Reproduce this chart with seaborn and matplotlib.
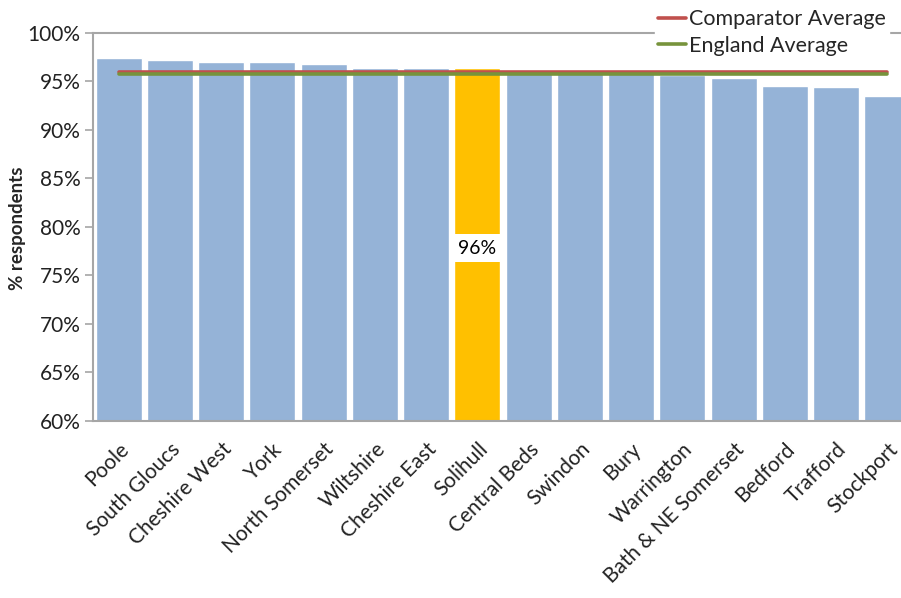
import matplotlib
matplotlib.use('Agg')
import matplotlib.pyplot as plt
import numpy as np
import pandas as pd
import seaborn as sns

# values
areas = ['Poole', 'South Gloucs', 'Cheshire West', 'York', 'North Somerset', 'Wiltshire',
         'Cheshire East', 'Solihull', 'Central Beds', 'Swindon', 'Bury', 'Warrington',
         'Bath & NE Somerset', 'Bedford', 'Trafford', 'Stockport']
pct = [97.4, 97.2, 97.0, 97.0, 96.8, 96.4, 96.4, 96.4, 96.0, 96.0, 96.0, 95.7,
       95.4, 94.5, 94.4, 93.5]
comparator_avg = 96.0
england_avg = 95.75
highlight = 'Solihull'
yticks = [60, 65, 70, 75, 80, 85, 90, 95, 100]

blue = '#95B3D7'
gold = '#FFC000'
red = '#C0504D'
green = '#77933C'
grey = '#A6A6A6'

sns.set_style('white')
plt.rcParams['font.family'] = ['Lato', 'DejaVu Sans']

df = pd.DataFrame({'area': areas, 'pct': pct})
palette = {a: (gold if a == highlight else blue) for a in areas}

fig = plt.figure(figsize=(9.01, 5.98), dpi=100)
ax = fig.add_axes([93 / 901, 1 - 421 / 598, 820 / 901, 388 / 598])

sns.barplot(data=df, x='area', y='pct', hue='area', palette=palette, legend=False,
            width=0.9, saturation=1, ax=ax, zorder=2)

# average lines running across the categories
xs = np.arange(len(areas))
ax.plot(xs, [comparator_avg] * len(areas), color=red, lw=2.6, label='Comparator Average', zorder=3)
ax.plot(xs, [england_avg] * len(areas), color=green, lw=2.6, label='England Average', zorder=3)

# data label for the highlighted bar
i = areas.index(highlight)
ax.text(i, (60 + pct[i]) / 2 - 0.4, f'{round(pct[i])}%', ha='center', va='center', fontsize=14,
        color='black', bbox=dict(facecolor='white', edgecolor='none', pad=4), zorder=4)

ax.set_ylim(60, 100)
ax.set_xlim(-0.5, len(areas) - 0.5)
ax.set_yticks(yticks)
ax.set_yticklabels([f'{t}%' for t in yticks], fontsize=15, color='#222222')
ax.set_xticks(xs)
ax.set_xticklabels(areas, rotation=45, ha='right', rotation_mode='anchor', fontsize=15,
                   color='#222222')
ax.tick_params(axis='x', length=0, pad=13)
ax.set_xticks(np.arange(len(areas) + 1) - 0.5, minor=True)
ax.tick_params(axis='x', which='minor', length=6, color=grey, width=1.2)
ax.tick_params(axis='y', length=6, color=grey, width=1.2, left=True, pad=3)
ax.set_xlabel('')
ax.set_ylabel('')
for s in ['left', 'bottom', 'top', 'right']:
    ax.spines[s].set_color(grey)
    ax.spines[s].set_linewidth(1.5)

fig.text(18 / 901, 1 - 228 / 598, '% respondents', rotation=90, ha='center', va='center',
         fontsize=13.5, fontweight='bold')

leg = ax.legend(loc='upper left', bbox_to_anchor=(644 / 901, 1.008), bbox_transform=fig.transFigure,
                frameon=True, fancybox=False, edgecolor='white', facecolor='white', framealpha=1,
                fontsize=15.5, handlelength=1.3, handletextpad=0.12, labelspacing=0.3,
                borderpad=0.15)

fig.savefig('out.png', dpi=100)
